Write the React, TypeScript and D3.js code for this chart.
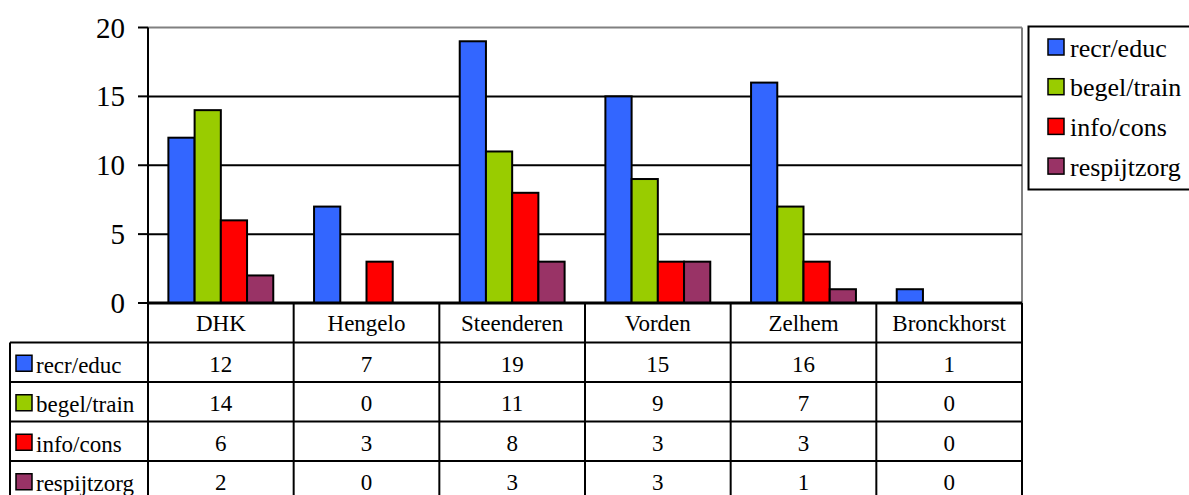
import React from "react";
import * as d3 from "d3";

const categories = ["DHK", "Hengelo", "Steenderen", "Vorden", "Zelhem", "Bronckhorst"];
const seriesNames = ["recr/educ", "begel/train", "info/cons", "respijtzorg"];
const recrEduc = [12, 7, 19, 15, 16, 1];
const begelTrain = [14, 0, 11, 9, 7, 0];
const infoCons = [6, 3, 8, 3, 3, 0];
const respijtzorg = [2, 0, 3, 3, 1, 0];
const yTicks = [0, 5, 10, 15, 20];
const colors = ["#3366FF", "#99CC00", "#FF0000", "#993366"];

const seriesValues = [recrEduc, begelTrain, infoCons, respijtzorg];

const width = 1189;
const height = 495;
const left = 148;
const right = 1022;
const top = 27.5;
const zeroY = 303;
const rowH = 39.5;
const font = "Liberation Serif, serif";

const App = () => {
  const y = d3.scaleLinear().domain([0, 20]).range([zeroY, top]);
  const x = d3.scaleBand().domain(categories).range([left, right]);
  const bw = x.bandwidth();
  const gap = bw * 0.14;
  const inner = d3.scaleBand().domain(seriesNames).range([gap, bw - gap]);
  const rows = d3
    .scaleBand()
    .domain(["header", ...seriesNames])
    .range([zeroY, zeroY + rowH * 5]);

  const tableBottom = zeroY + rowH * 5;

  return (
    <svg
      width={width}
      height={height}
      style={{ position: "absolute", left: 0, top: 0, background: "#fff", fontFamily: font }}
    >
      {/* plot frame, gray top/right */}
      <line x1={left} x2={right} y1={top} y2={top} stroke="#808080" strokeWidth={2} />
      <line x1={right} x2={right} y1={top} y2={zeroY} stroke="#808080" strokeWidth={2} />

      {/* gridlines + ticks */}
      {yTicks.map((t) => (
        <g key={t}>
          {t > 0 && t < 20 && (
            <line x1={left} x2={right} y1={y(t)} y2={y(t)} stroke="#000" strokeWidth={2} />
          )}
          <line x1={138} x2={left} y1={y(t)} y2={y(t)} stroke="#000" strokeWidth={2} />
          <text
            x={125}
            y={y(t)}
            textAnchor="end"
            dominantBaseline="central"
            style={{ fontSize: 29 }}
          >
            {t}
          </text>
        </g>
      ))}

      {/* bars */}
      {seriesValues.map((vals, si) =>
        vals.map((v, ci) => (
          <rect
            key={si + "-" + ci}
            x={(x(categories[ci]) as number) + (inner(seriesNames[si]) as number)}
            y={y(v)}
            width={inner.bandwidth()}
            height={zeroY - y(v)}
            fill={colors[si]}
            stroke="#000"
            strokeWidth={2}
          />
        ))
      )}

      {/* y axis */}
      <line x1={left} x2={left} y1={top} y2={zeroY} stroke="#000" strokeWidth={2} />

      {/* data table */}
      <g style={{ fontSize: 23 }}>
        {categories.map((c) => (
          <text
            key={c}
            x={(x(c) as number) + bw / 2}
            y={(rows("header") as number) + rowH / 2 + 1}
            textAnchor="middle"
            dominantBaseline="central"
          >
            {c}
          </text>
        ))}
        {seriesNames.map((s, si) => {
          const ry = rows(s) as number;
          return (
            <g key={s}>
              <rect
                x={16}
                y={ry + rowH / 2 - 7}
                width={16}
                height={16}
                fill={colors[si]}
                stroke="#000"
                strokeWidth={1.5}
              />
              <text x={36} y={ry + rowH / 2 + 3} dominantBaseline="central">
                {s}
              </text>
              {seriesValues[si].map((v, ci) => (
                <text
                  key={ci}
                  x={(x(categories[ci]) as number) + bw / 2}
                  y={ry + rowH / 2 + 2}
                  textAnchor="middle"
                  dominantBaseline="central"
                >
                  {v}
                </text>
              ))}
            </g>
          );
        })}
        {/* horizontal table lines */}
        <line x1={left} x2={right} y1={zeroY} y2={zeroY} stroke="#000" strokeWidth={3} />
        {seriesNames.map((s) => (
          <line
            key={s}
            x1={10}
            x2={right}
            y1={rows(s) as number}
            y2={rows(s) as number}
            stroke="#000"
            strokeWidth={2}
          />
        ))}
        <line x1={10} x2={right} y1={tableBottom} y2={tableBottom} stroke="#000" strokeWidth={2} />
        {/* vertical table lines */}
        <line x1={10} x2={10} y1={rows(seriesNames[0]) as number} y2={tableBottom} stroke="#000" strokeWidth={2} />
        {categories.map((c) => (
          <line
            key={c}
            x1={x(c) as number}
            x2={x(c) as number}
            y1={zeroY}
            y2={tableBottom}
            stroke="#000"
            strokeWidth={2}
          />
        ))}
        <line x1={right} x2={right} y1={zeroY} y2={tableBottom} stroke="#000" strokeWidth={2} />
      </g>

      {/* legend */}
      <g style={{ fontSize: 26 }}>
        <rect x={1028.5} y={26.5} width={170} height={163} fill="#fff" stroke="#000" strokeWidth={2} />
        {seriesNames.map((s, i) => {
          const cy = 47 + i * 39.7;
          return (
            <g key={s}>
              <rect
                x={1048}
                y={cy - 8}
                width={16}
                height={16}
                fill={colors[i]}
                stroke="#000"
                strokeWidth={1.5}
              />
              <text x={1070} y={cy + 1} dominantBaseline="central">
                {s}
              </text>
            </g>
          );
        })}
      </g>
    </svg>
  );
};

export default App;
